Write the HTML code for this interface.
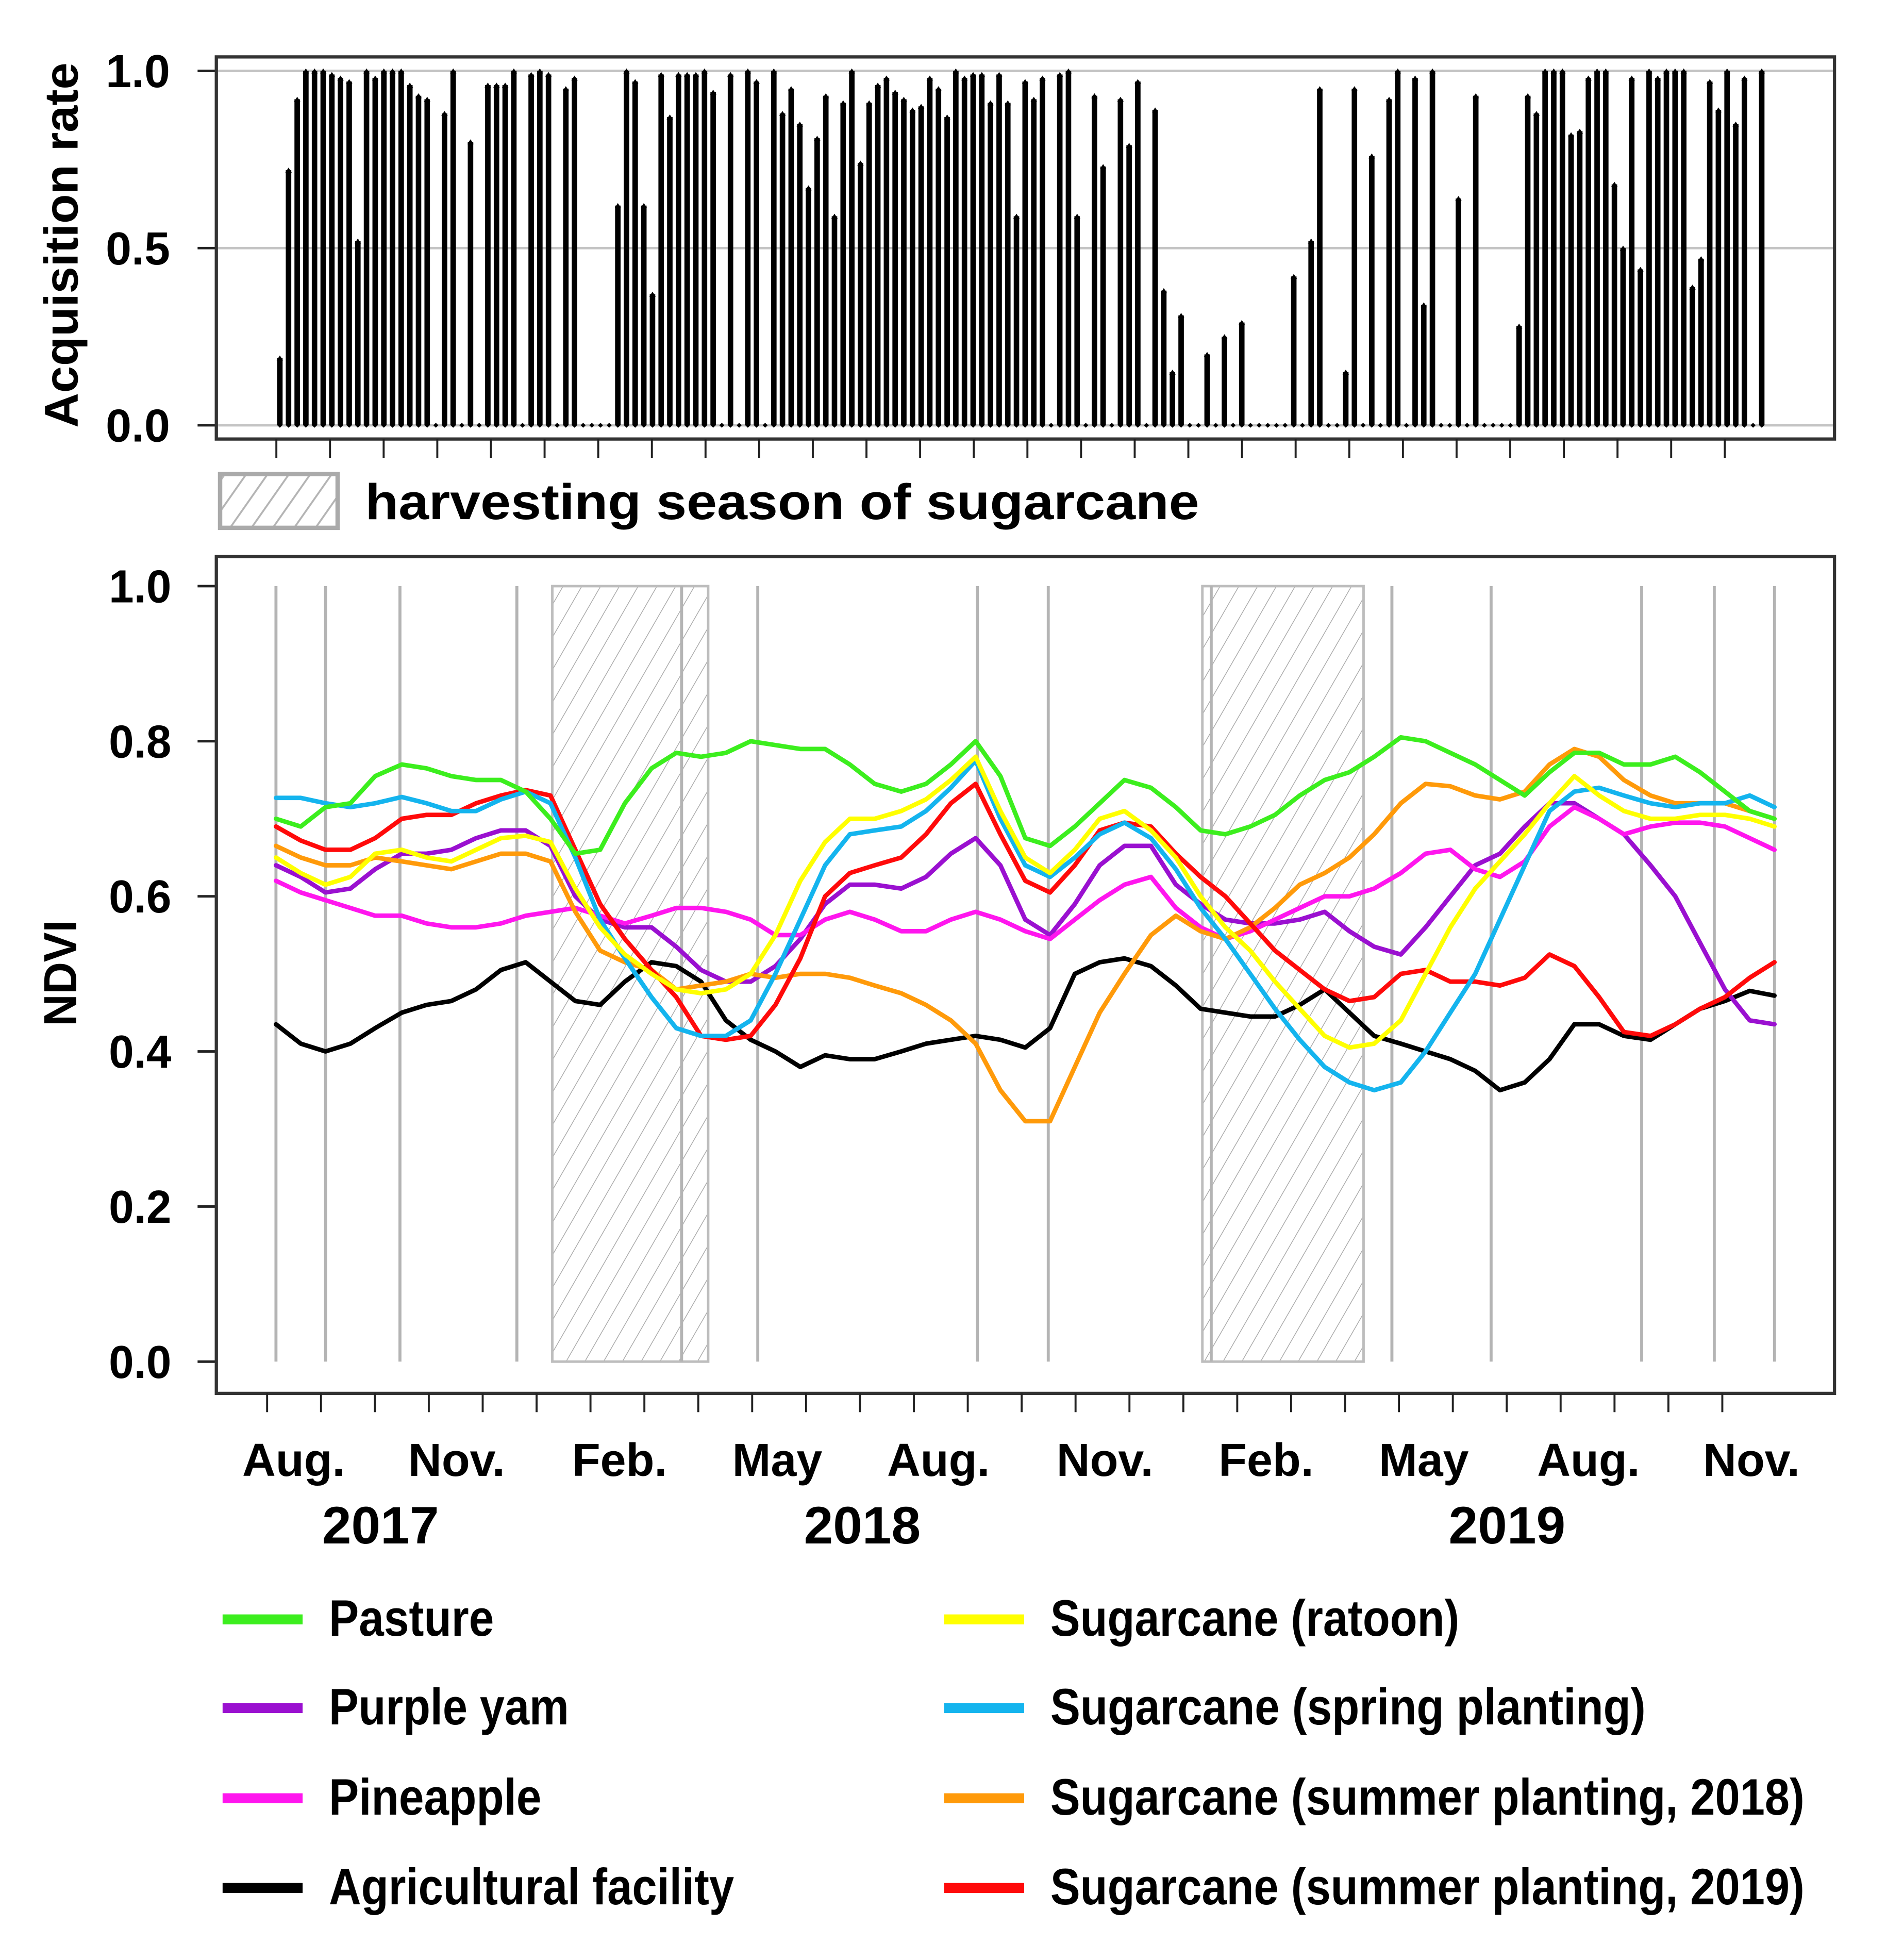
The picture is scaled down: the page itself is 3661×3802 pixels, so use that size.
<!DOCTYPE html>
<html>
<head>
<meta charset="utf-8">
<style>
html,body{margin:0;padding:0;background:#fff;}
svg{display:block;}
text{font-family:"Liberation Sans",Arial,sans-serif;font-weight:bold;fill:#000;}
</style>
</head>
<body>
<svg id="fig" width="3661" height="3802" viewBox="0 0 1509 1567" preserveAspectRatio="none" xmlns="http://www.w3.org/2000/svg">
<defs>
<pattern id="hatch" patternUnits="userSpaceOnUse" width="13" height="13" patternTransform="rotate(30)">
<line x1="0" y1="0" x2="0" y2="13" stroke="#a8a8a8" stroke-width="1.2"/>
</pattern>
<pattern id="hatch2" patternUnits="userSpaceOnUse" width="14" height="14" patternTransform="rotate(35)">
<line x1="0" y1="0" x2="0" y2="14" stroke="#b4b4b4" stroke-width="3"/>
</pattern>
</defs>
<rect x="0" y="0" width="1509" height="1567" fill="#fff"/>

<g id="topchart"></g>

<g>
<rect x="176" y="379" width="94" height="43" fill="url(#hatch2)" stroke="#aaa" stroke-width="3.5"/>
<text x="292" y="415" font-size="40" textLength="667" lengthAdjust="spacingAndGlyphs">harvesting season of sugarcane</text>
</g>

<g id="bottomchart"></g>

<g id="legend"></g>
</svg>

<script>
// ---------- Top chart data (acquisition rate, one bar per 5-day period) ----------
const acqRates = [
.19,.72,.92,1,1,1,.99,.98,.97,.52,1,.98,1,1,1,.96,.93,.92,0,.88,1,0,.80,0,.96,.96,.96,1,0,.99,1,.99,0,.95,.98,0,0,0,0,.62,1,.97,.62,.37,.99,.87,.99,.99,.99,1,.94,0,.99,0,1,.97,0,1,.88,.95,
.85,.67,.81,.93,.59,.91,1,.74,.91,.96,.98,.94,.92,.89,.90,.98,.95,.87,1,.98,.99,.99,.91,.99,.91,.59,.97,.92,.98,0,.99,1,.59,0,.93,.73,0,.92,.79,.97,0,.89,.38,.15,.31,0,0,.20,0,.25,0,.29,0,0,0,0,0,.42,0,.52,
.95,0,0,.15,.95,0,.76,0,.92,1,0,.98,.34,1,0,0,.64,0,.93,0,0,0,0,.28,.93,.88,1,1,1,.82,.83,.98,1,1,.68,.50,.98,.44,1,.98,1,1,1,.39,.47,.97,.89,1,.85,.98,0,1
];
const topTickLabels = ["0.0","0.5","1.0"];
const topTickValues = [0,0.5,1.0];

// ---------- Bottom chart data (NDVI time series) ----------
// days since 2017-08-01
const sampleDays = [5,19,33,47,61,76,90,104,118,132,146,160,174,188,202,217,231,245,259,273,287,301,315,329,343,358,372,386,400,414,428,442,456,470,484,499,513,527,541,555,569,583,597,611,625,640,654,668,682,696,710,724,738,752,766,781,795,809,823,837,851];
const pasture = [0.70,0.69,0.715,0.72,0.755,0.77,0.765,0.755,0.75,0.75,0.735,0.70,0.655,0.66,0.72,0.765,0.785,0.78,0.785,0.80,0.795,0.79,0.79,0.77,0.745,0.735,0.745,0.77,0.80,0.755,0.675,0.665,0.69,0.72,0.75,0.74,0.715,0.685,0.68,0.69,0.705,0.73,0.75,0.76,0.78,0.805,0.80,0.785,0.77,0.75,0.73,0.76,0.785,0.785,0.77,0.77,0.78,0.76,0.735,0.71,0.70];
const purpleYam = [0.64,0.625,0.605,0.61,0.635,0.655,0.655,0.66,0.675,0.685,0.685,0.665,0.60,0.57,0.56,0.56,0.535,0.505,0.49,0.49,0.51,0.545,0.59,0.615,0.615,0.61,0.625,0.655,0.675,0.64,0.57,0.55,0.59,0.64,0.665,0.665,0.615,0.59,0.57,0.565,0.565,0.57,0.58,0.555,0.535,0.525,0.56,0.60,0.64,0.655,0.69,0.72,0.72,0.70,0.68,0.64,0.60,0.54,0.48,0.44,0.435];
const pineapple = [0.62,0.605,0.595,0.585,0.575,0.575,0.565,0.56,0.56,0.565,0.575,0.58,0.585,0.575,0.565,0.575,0.585,0.585,0.58,0.57,0.55,0.55,0.57,0.58,0.57,0.555,0.555,0.57,0.58,0.57,0.555,0.545,0.57,0.595,0.615,0.625,0.585,0.56,0.545,0.555,0.57,0.585,0.60,0.60,0.61,0.63,0.655,0.66,0.635,0.625,0.645,0.69,0.715,0.70,0.68,0.69,0.695,0.695,0.69,0.675,0.66];
const agFacility = [0.435,0.41,0.40,0.41,0.43,0.45,0.46,0.465,0.48,0.505,0.515,0.49,0.465,0.46,0.49,0.515,0.51,0.49,0.44,0.415,0.40,0.38,0.395,0.39,0.39,0.40,0.41,0.415,0.42,0.415,0.405,0.43,0.50,0.515,0.52,0.51,0.485,0.455,0.45,0.445,0.445,0.46,0.48,0.45,0.42,0.41,0.40,0.39,0.375,0.35,0.36,0.39,0.435,0.435,0.42,0.415,0.435,0.455,0.465,0.478,0.472];
const ratoon = [0.65,0.63,0.615,0.625,0.655,0.66,0.65,0.645,0.66,0.675,0.678,0.67,0.61,0.56,0.525,0.50,0.48,0.475,0.48,0.50,0.55,0.62,0.67,0.70,0.70,0.71,0.725,0.75,0.78,0.71,0.65,0.63,0.66,0.70,0.71,0.685,0.65,0.60,0.56,0.53,0.49,0.455,0.42,0.405,0.41,0.44,0.50,0.56,0.61,0.645,0.68,0.72,0.755,0.73,0.71,0.70,0.70,0.705,0.705,0.70,0.69];
const springPlanting = [0.727,0.727,0.72,0.715,0.72,0.728,0.72,0.71,0.71,0.725,0.735,0.72,0.65,0.57,0.52,0.47,0.43,0.42,0.42,0.44,0.50,0.57,0.64,0.68,0.685,0.69,0.71,0.74,0.775,0.70,0.64,0.625,0.65,0.68,0.695,0.675,0.635,0.585,0.545,0.50,0.455,0.415,0.38,0.36,0.35,0.36,0.40,0.45,0.50,0.57,0.64,0.71,0.735,0.74,0.73,0.72,0.715,0.72,0.72,0.73,0.715];
const summer2018 = [0.665,0.65,0.64,0.64,0.65,0.645,0.64,0.635,0.645,0.655,0.655,0.645,0.58,0.53,0.515,0.505,0.48,0.485,0.49,0.50,0.495,0.50,0.50,0.495,0.485,0.475,0.46,0.44,0.41,0.35,0.31,0.31,0.38,0.45,0.50,0.55,0.575,0.555,0.545,0.56,0.585,0.615,0.63,0.65,0.68,0.72,0.745,0.742,0.73,0.725,0.735,0.77,0.79,0.78,0.75,0.73,0.72,0.72,0.72,0.71,0.70];
const summer2019 = [0.69,0.672,0.66,0.66,0.675,0.70,0.705,0.705,0.72,0.73,0.737,0.73,0.66,0.59,0.545,0.505,0.47,0.42,0.415,0.42,0.46,0.52,0.60,0.63,0.64,0.65,0.68,0.72,0.745,0.68,0.62,0.605,0.64,0.685,0.695,0.69,0.655,0.625,0.60,0.565,0.53,0.505,0.48,0.465,0.47,0.50,0.505,0.49,0.49,0.485,0.495,0.525,0.51,0.47,0.425,0.42,0.435,0.455,0.47,0.495,0.515];
const ndviTickLabels = ["0.0","0.2","0.4","0.6","0.8","1.0"];
const ndviTickValues = [0,0.2,0.4,0.6,0.8,1.0];
// reference (gray) vertical lines and harvest periods, in days since 2017-08-01
const refLineDays = [5,33,75,141,234,277,401,441,533,635,691,776,817,851];
const harvestStart = [161,528];
const harvestEnd = [249,619];
const monthLabels = ["Aug.","Nov.","Feb.","May","Aug.","Nov.","Feb.","May","Aug.","Nov."];
const monthLabelDays = [15,107,199,288,379,473,564,653,746,838];
const yearLabels = ["2017","2018","2019"];
const yearLabelDays = [64,336,700];

const seriesNames = ["Pasture","Purple yam","Pineapple","Agricultural facility","Sugarcane (ratoon)","Sugarcane (spring planting)","Sugarcane (summer planting, 2018)","Sugarcane (summer planting, 2019)"];
const seriesColors = ["#3cee1e","#9a10d0","#ff16ee","#000000","#ffff00","#14b4ee","#ff9a0a","#ff0a0a"];
const seriesData = [pasture,purpleYam,pineapple,agFacility,ratoon,springPlanting,summer2018,summer2019];
const drawOrder = [3,1,2,6,7,5,4,0];

const NS = "http://www.w3.org/2000/svg";
function mk(tag, attrs, parent){
  const e = document.createElementNS(NS, tag);
  for (const k in attrs) e.setAttribute(k, attrs[k]);
  parent.appendChild(e);
  return e;
}

// ---------- Top chart ----------
const topG = document.getElementById('topchart');
const tX0 = 173, tX1 = 1467, tY0 = 45.5, tY1 = 351;
const yTop = v => 340 - (340 - 56.7) * v;
const xTop = i => 223.8 + i * 6.93;

topTickValues.forEach((v, k) => {
  const g = mk('line', {x1:tX0, x2:tX1, y1:yTop(v), y2:yTop(v), stroke:'#c4c4c4', 'stroke-width':2}, topG);
  
  
  const t = mk('line', {x1:158, x2:tX0, y1:yTop(v), y2:yTop(v), stroke:'#222', 'stroke-width':2}, topG);
  
  
  const lb = mk('text', {x:136, y:yTop(v)+13, 'font-size':37, 'text-anchor':'end'}, topG);
  lb.textContent = topTickLabels[k];
  
  
});

acqRates.forEach((v, i) => {
  const x = xTop(i);
  if (v > 0) {
    const b = mk('rect', {x:x-2.2, y:yTop(v), width:4.4, height:yTop(0)-yTop(v), fill:'#000'}, topG);
    
    
    const cap = mk('path', {d:`M${x-2.6},${yTop(v)+2} L${x},${yTop(v)-2} L${x+2.6},${yTop(v)+2} Z`, fill:'#000'}, topG);
    
    
  }
  const d = mk('path', {d:`M${x-2},${yTop(0)} L${x},${yTop(0)-2} L${x+2},${yTop(0)} L${x},${yTop(0)+2} Z`, fill:'#000'}, topG);
  
  
});

const tb = mk('rect', {x:tX0, y:tY0, width:tX1-tX0, height:tY1-tY0, fill:'none', stroke:'#333', 'stroke-width':2.6}, topG);


for (let k = 0; k < 28; k++) {
  const x = 221 + k * 42.9;
  const tk = mk('line', {x1:x, x2:x, y1:tY1, y2:366, stroke:'#222', 'stroke-width':1.6}, topG);
  
  
}
const ytl = mk('text', {x:0, y:0, 'font-size':38, 'text-anchor':'middle', textLength:292, lengthAdjust:'spacingAndGlyphs', transform:'translate(62,196) rotate(-90)'}, topG);
ytl.textContent = 'Acquisition rate';



// ---------- Bottom chart ----------
const botG = document.getElementById('bottomchart');
const bX0 = 173, bX1 = 1467, bY0 = 445, bY1 = 1114;
const xDay = d => 213.6 + d * 1.4165;
const yNdvi = v => 1088.6 - 620 * v;

harvestStart.forEach((s, k) => {
  const r = mk('rect', {x:xDay(s), y:yNdvi(1), width:xDay(harvestEnd[k])-xDay(s), height:yNdvi(0)-yNdvi(1), fill:'url(#hatch)', stroke:'#bdbdbd', 'stroke-width':2}, botG);
  
  
});
refLineDays.forEach(d => {
  const l = mk('line', {x1:xDay(d), x2:xDay(d), y1:yNdvi(1), y2:yNdvi(0), stroke:'#b4b4b4', 'stroke-width':2.4}, botG);
  
  
});

ndviTickValues.forEach((v, k) => {
  const t = mk('line', {x1:158, x2:bX0, y1:yNdvi(v), y2:yNdvi(v), stroke:'#222', 'stroke-width':2}, botG);
  
  
  const lb = mk('text', {x:137, y:yNdvi(v)+13, 'font-size':37, 'text-anchor':'end', textLength:50, lengthAdjust:'spacingAndGlyphs'}, botG);
  lb.textContent = ndviTickLabels[k];
  
  
});

drawOrder.forEach(si => {
  const vals = seriesData[si];
  let d = '';
  vals.forEach((v, i) => { d += (i ? 'L' : 'M') + xDay(sampleDays[i]).toFixed(1) + ',' + yNdvi(v).toFixed(1); });
  const p = mk('path', {d:d, fill:'none', stroke:seriesColors[si], 'stroke-width':3.6, 'stroke-linejoin':'round', 'stroke-linecap':'round'}, botG);
  
  
});

const bb = mk('rect', {x:bX0, y:bY0, width:bX1-bX0, height:bY1-bY0, fill:'none', stroke:'#333', 'stroke-width':2.6}, botG);


for (let k = 0; k < 28; k++) {
  const x = 213.6 + k * 43.1;
  const tk = mk('line', {x1:x, x2:x, y1:bY1, y2:1129, stroke:'#222', 'stroke-width':1.6}, botG);
  
  
}
monthLabels.forEach((m, k) => {
  const t = mk('text', {x:xDay(monthLabelDays[k]), y:1180, 'font-size':37, 'text-anchor':'middle'}, botG);
  t.textContent = m;
  
  
});
yearLabels.forEach((m, k) => {
  const t = mk('text', {x:xDay(yearLabelDays[k]), y:1234, 'font-size':42, 'text-anchor':'middle'}, botG);
  t.textContent = m;
  
  
});
const ny = mk('text', {x:0, y:0, 'font-size':37, 'text-anchor':'middle', textLength:85, lengthAdjust:'spacingAndGlyphs', transform:'translate(61,778) rotate(-90)'}, botG);
ny.textContent = 'NDVI';



// ---------- Legend ----------
const legG = document.getElementById('legend');
const rowY = [1294.7, 1365.6, 1437.7, 1509.4];
const legendWidths = [132,192,170,324,327,476,603,603];
seriesNames.forEach((n, si) => {
  const col = si < 4 ? 0 : 1;
  const row = si % 4;
  const sx = col ? 755 : 178;
  const tx = col ? 840 : 263;
  const sw = mk('rect', {x:sx, y:rowY[row]-4, width:64, height:8, fill:seriesColors[si]}, legG);
  
  
  const t = mk('text', {x:tx, y:rowY[row]+13, 'font-size':41, textLength:legendWidths[si], lengthAdjust:'spacingAndGlyphs'}, legG);
  t.textContent = n;
  
  
});
</script>
</body>
</html>
